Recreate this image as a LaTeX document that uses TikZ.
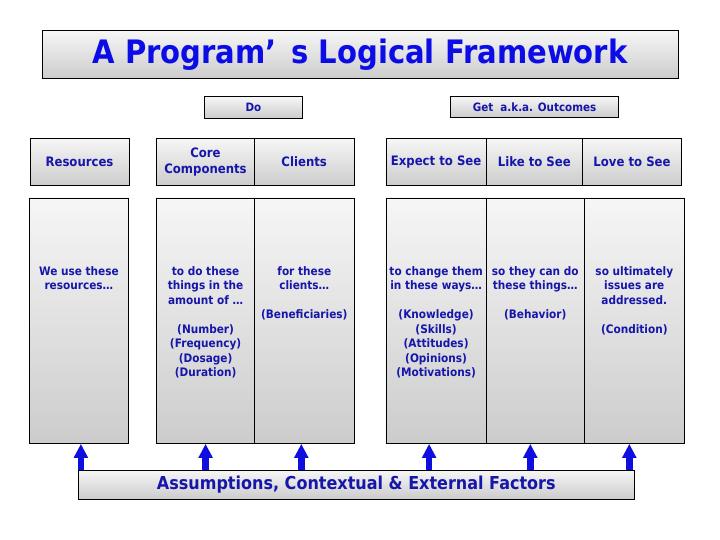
\documentclass[tikz,border=0pt]{standalone}
\usepackage{fontspec}
\setmainfont{DejaVu Sans}[FakeStretch=0.9]
\usetikzlibrary{arrows.meta}
\definecolor{titleblue}{RGB}{12,12,230}
\definecolor{textblue}{RGB}{22,22,170}
\definecolor{arrowblue}{RGB}{14,14,225}
\tikzset{
  box/.style={draw, line width=0.8pt, top color=gray!7, bottom color=gray!40, inner sep=0pt, align=center, text=textblue},
  hdr/.style={box, minimum height=47pt, font=\fontsize{13}{16}\selectfont\bfseries},
  col/.style={box, minimum height=245.5pt},
  body/.style={anchor=north, inner sep=0pt, align=center, text=textblue, font=\fontsize{11.7}{14.5}\selectfont\bfseries},
  uparrow/.style={arrowblue, line width=6.5pt, -{Triangle[width=13.5pt,length=14pt]}}
}

\begin{document}
\begin{tikzpicture}[x=1pt,y=-1pt]
  \useasboundingbox (0,0) rectangle (720,540);
  % title and the two groups
  \node[box, minimum width=636pt, minimum height=48pt, text=titleblue, font=\fontsize{32.3}{36}\selectfont\bfseries] (title) at (360,54.5) {A Program’\hspace{0.45em}s Logical Framework};
  \node[box, minimum width=98pt, minimum height=21.6pt, font=\fontsize{11.5}{14}\selectfont\bfseries] (do) at (253.5,107.5) {Do};
  \node[box, minimum width=167.6pt, minimum height=20.6pt, font=\fontsize{11.5}{14}\selectfont\bfseries] (get) at (534.5,107) {Get~~a.k.a. Outcomes};

  % column headings
  \node[hdr, minimum width=99pt] (res) at (79.5,162) {Resources};
  \node[hdr, minimum width=98pt] (core) at (205.5,162) {Core\\Components};
  \node[hdr, minimum width=99.5pt] (cli) at (304.2,162) {Clients};
  \node[hdr, minimum width=100.3pt] (exp) at (436.1,162) {Expect to See};
  \node[hdr, minimum width=96pt] (like) at (534.3,162) {Like to See};
  \node[hdr, minimum width=99.4pt] (love) at (632,162) {Love to See};

  % columns
  \node[col, minimum width=99.7pt] (usecol) at (78.9,320.7) {};
  \node[col, minimum width=98.2pt] (docol) at (205.6,320.7) {};
  \node[col, minimum width=99.3pt] (clicol) at (304.3,320.7) {};
  \node[col, minimum width=100.3pt] (chgcol) at (436.1,320.7) {};
  \node[col, minimum width=98pt] (behcol) at (535.3,320.7) {};
  \node[col, minimum width=100pt] (isscol) at (634.3,320.7) {};

  \node[body] (usetxt) at (78.9,266) {We use these\\resources…};
  \node[body] (dotxt) at (205.6,266) {to do these\\things in the\\amount of …\\[14.5pt](Number)\\(Frequency)\\(Dosage)\\(Duration)};
  \node[body] (clitxt) at (304.3,266) {for these\\clients…\\[14.5pt](Beneficiaries)};
  \node[body] (chgtxt) at (436.1,266) {to change them\\in these ways…\\[14.5pt](Knowledge)\\(Skills)\\(Attitudes)\\(Opinions)\\(Motivations)};
  \node[body] (behtxt) at (535.3,266) {so they can do\\these things…\\[14.5pt](Behavior)};
  \node[body] (isstxt) at (634.3,266) {so ultimately\\issues are\\addressed.\\[14.5pt](Condition)};

  % factors and arrows
  \node[box, minimum width=556pt, minimum height=29pt, font=\fontsize{17.8}{20}\selectfont\bfseries] (fac) at (356.3,484.5) {Assumptions, Contextual \& External Factors};
  \foreach \c/\dx in {usecol/2,docol/0,clicol/-3,chgcol/-7,behcol/-5,isscol/-5}{
    \path ([xshift=\dx pt]\c.south) coordinate (tip);
    \draw[uparrow] (tip |- fac.north) -- (tip);
  }
\end{tikzpicture}
\end{document}
